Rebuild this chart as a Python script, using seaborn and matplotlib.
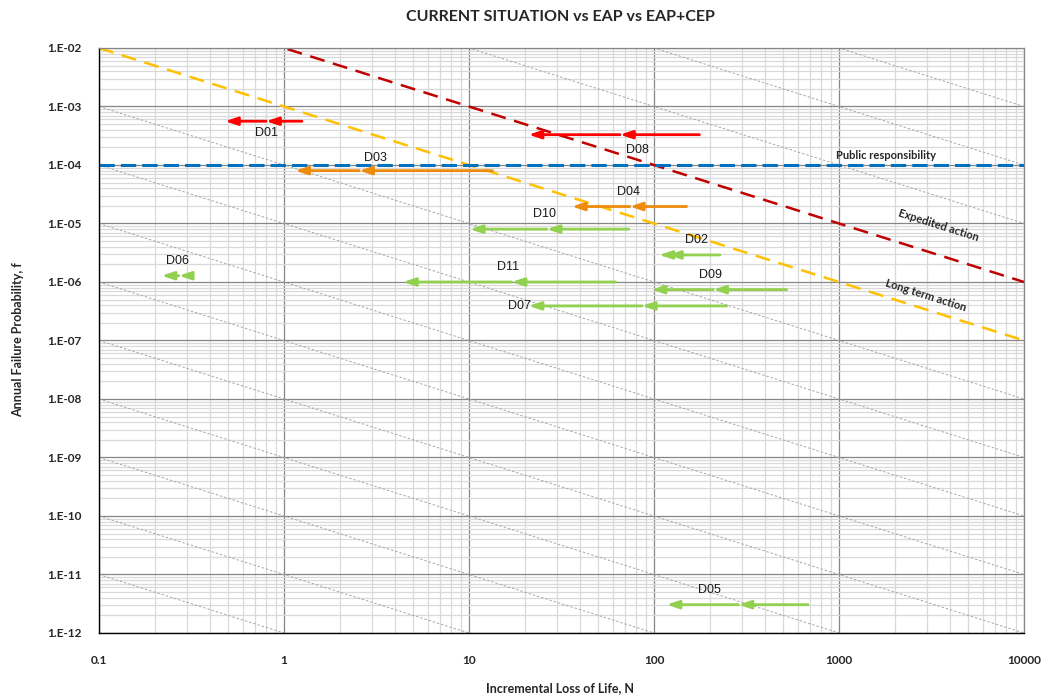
import numpy as np
import pandas as pd
import matplotlib
matplotlib.use("Agg")
import matplotlib.pyplot as plt
import seaborn as sns
from matplotlib.ticker import LogLocator, FixedLocator, FuncFormatter, NullFormatter
from matplotlib.patches import ArrowStyle

# ---------------- data ----------------
dams = ["D01", "D02", "D03", "D04", "D05", "D06", "D07", "D08", "D09", "D10", "D11"]
prob = [5.6e-4, 2.9e-6, 8.0e-5, 1.95e-5, 3.05e-12, 1.28e-6, 3.9e-7, 3.3e-4, 7.4e-7, 8.0e-6, 1.0e-6]
n_current = [1.25, 227, 13.4, 150, 680, 0.31, 247, 176, 521, 73, 62]
n_eap = [0.80, 119, 2.55, 74, 286, 0.27, 86, 65.5, 209, 26.3, 17]
n_eap_cep = [0.48, 107, 1.15, 36, 117, 0.218, 21, 21, 97, 10.1, 4.4]
risk_class = ["red", "green", "orange", "orange", "green", "green", "green", "red", "green", "green", "green"]

x_ticks = [0.1, 1, 10, 100, 1000, 10000]
x_tick_labels = ["0.1", "1", "10", "100", "1000", "10000"]
y_exponents = list(range(-12, -1))

long_term_fN = 1e-3
expedited_fN = 1e-2
public_f = 1e-4
iso_fN_exponents = [e for e in range(-14, 3) if e not in (-3, -2)]

title = "CURRENT SITUATION vs EAP vs EAP+CEP"
x_label = "Incremental Loss of Life, N"
y_label = "Annual Failure Probability, f"

# ---------------- style ----------------
sns.set_style("white")
plt.rcParams["font.family"] = ["Lato", "DejaVu Sans"]

colors = {"red": "#ff0000", "orange": "#ec8b0c", "green": "#92d050"}
label_offsets = {  # pixels, relative to EAP point (D07 relative to left end)
    "D01": (0, -12, "center"), "D02": (29, 15, "center"), "D03": (16, 13, "center"),
    "D04": (-1, 15, "center"), "D05": (-29, 15, "center"), "D06": (-1, 15, "center"),
    "D07": (2, 0, "right"), "D08": (17, -15, "center"), "D09": (-3, 15, "center"),
    "D10": (-2, 15, "center"), "D11": (-4, 15, "center"),
}

fig = plt.figure(figsize=(10.45, 6.95), dpi=100)
ax = fig.add_axes([99 / 1045, 62 / 695, 925 / 1045, 585 / 695])
ax.set_xscale("log")
ax.set_yscale("log")

# iso-risk diagonals
n_line = np.array([0.1, 10000.0])
for e in iso_fN_exponents:
    ax.plot(n_line, (10.0 ** e) / n_line, color="#a6a6a6", lw=0.7,
            ls=(0, (2.5, 2)), zorder=1)

# criteria lines
crit = pd.DataFrame({
    "N": np.concatenate([n_line, n_line, n_line]),
    "f": np.concatenate([long_term_fN / n_line, expedited_fN / n_line, [public_f, public_f]]),
    "line": ["long"] * 2 + ["exp"] * 2 + ["pub"] * 2,
})
sns.lineplot(data=crit[crit.line == "long"], x="N", y="f", ax=ax, color="#ffc000",
             lw=1.8, linestyle=(0, (6, 3.5)), zorder=2, estimator=None)
sns.lineplot(data=crit[crit.line == "exp"], x="N", y="f", ax=ax, color="#c00000",
             lw=1.8, linestyle=(0, (6, 3.5)), zorder=2, estimator=None)
sns.lineplot(data=crit[crit.line == "pub"], x="N", y="f", ax=ax, color="#0070c0",
             lw=2.2, linestyle=(0, (5, 2)), zorder=2, estimator=None)
ax.set_xlabel("")
ax.set_ylabel("")

ax.set_xlim(0.1, 10000)
ax.set_ylim(1e-12, 1e-2)

# grid
ax.xaxis.set_major_locator(FixedLocator(x_ticks))
ax.xaxis.set_minor_locator(LogLocator(base=10, subs=np.arange(2, 10), numticks=50))
ax.yaxis.set_major_locator(FixedLocator([10.0 ** e for e in y_exponents]))
ax.yaxis.set_minor_locator(LogLocator(base=10, subs=np.arange(2, 10), numticks=50))
ax.xaxis.set_minor_formatter(NullFormatter())
ax.yaxis.set_minor_formatter(NullFormatter())
ax.set_xticklabels(x_tick_labels)
ax.yaxis.set_major_formatter(FuncFormatter(lambda v, p: "1.E-%02d" % int(round(-np.log10(v)))))
ax.grid(which="minor", color="#d9d9d9", lw=0.9, zorder=0)
ax.grid(which="major", color="#868686", lw=0.9, zorder=0)
ax.set_axisbelow(True)

for s in ["top", "right"]:
    ax.spines[s].set_color("#868686")
    ax.spines[s].set_linewidth(0.9)
for s in ["left", "bottom"]:
    ax.spines[s].set_color("black")
    ax.spines[s].set_linewidth(1.0)

ax.tick_params(which="major", direction="inout", length=7, width=1, color="black",
               labelsize=8.5, pad=9)
ax.tick_params(which="minor", direction="out", length=3, width=0.8, color="black")
for lab in ax.get_xticklabels() + ax.get_yticklabels():
    lab.set_fontweight("bold")
ax.tick_params(axis="x", which="major", pad=12)

ax.annotate("Public responsibility", xy=(1000, public_f), xytext=(-3, 9),
            textcoords="offset pixels", fontsize=8, fontweight="bold",
            ha="left", va="center")
ax.annotate("Expedited action", xy=(1000, expedited_fN / 1000), xytext=(100, -2),
            textcoords="offset pixels", fontsize=8, fontweight="bold",
            rotation=-17.5, ha="center", va="center", rotation_mode="anchor")
ax.annotate("Long term action", xy=(1000, long_term_fN / 1000), xytext=(87, -13),
            textcoords="offset pixels", fontsize=8, fontweight="bold",
            rotation=-17.5, ha="center", va="center", rotation_mode="anchor")

# arrows
style = ArrowStyle("-|>", head_length=0.9, head_width=0.3)
for d, f, nc, ne, nl, rc in zip(dams, prob, n_current, n_eap, n_eap_cep, risk_class):
    c = colors[rc]
    ax.annotate("", xy=(ne, f), xytext=(nc, f),
                arrowprops=dict(arrowstyle=style, color=c, lw=2.0, shrinkA=0, shrinkB=0,
                                mutation_scale=8), zorder=4)
    ax.annotate("", xy=(nl, f), xytext=(ne, f),
                arrowprops=dict(arrowstyle=style, color=c, lw=2.0, shrinkA=0, shrinkB=0,
                                mutation_scale=8), zorder=4)
    dx, dy, ha = label_offsets[d]
    anchor = (nl, f) if ha == "right" else (ne, f)
    ax.annotate(d, xy=anchor, xytext=(dx, dy), textcoords="offset pixels",
                ha=ha, va="center", fontsize=9, family=["Liberation Sans", "DejaVu Sans"],
                color="#1a1a1a", zorder=5)

fig.text(560 / 1045, 1 - 688 / 695, x_label, ha="center", va="center",
         fontsize=9, fontweight="bold")
fig.text(18 / 1045, 1 - 340 / 695, y_label, ha="center", va="center",
         fontsize=9, fontweight="bold", rotation=90)
fig.text(560 / 1045, 1 - 17 / 695, title, ha="center", va="center",
         fontsize=11.5, fontweight="bold")

fig.savefig("out.png", dpi=100)
